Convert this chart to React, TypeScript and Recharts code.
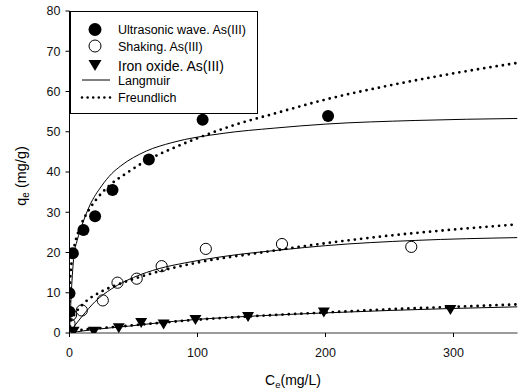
import React from "react";
import { ComposedChart, Line, Scatter, XAxis, YAxis, Legend, Label } from "recharts";

// measured points
const ultraC = [0, 0, 2.6, 10.9, 20, 33.6, 62, 104, 202];
const ultraQ = [5.3, 9.9, 19.8, 25.6, 29, 35.5, 43.1, 53, 53.9];

const shakeC = [0, 1.2, 9.6, 26, 37.5, 52.5, 72, 106.5, 166, 267];
const shakeQ = [2.3, 4.5, 5.6, 8.1, 12.5, 13.5, 16.6, 20.9, 22.1, 21.4];

const ironC = [3.2, 19, 38.5, 56, 73.5, 98.4, 139.5, 198.7, 297.6];
const ironQ = [0.3, 0.3, 1.2, 2.5, 2.1, 3.2, 4.0, 5.1, 5.7];

// fitted curves
const ultraLangC = [0, 1.5, 3.4, 6, 10, 16, 25, 33, 40, 60, 80, 120, 160, 200, 270, 350];
const ultraLangQ = [0, 10.5, 19, 23, 27, 31.8, 36.5, 39.6, 41.5, 45.2, 47.3, 49.6, 50.9, 51.9, 52.8, 53.3];
const ultraFreC = [0, 0.1, 0.5, 1, 2, 4, 7, 10, 15, 20, 30, 45, 60, 80, 100, 130, 160, 200, 250, 300, 350];
const ultraFreQ = [0, 8.7, 13, 15.5, 18.4, 21.9, 25.2, 27.6, 30.5, 32.8, 36.3, 39.8, 42.8, 45.8, 48.4, 51.8, 54.5, 58, 61.5, 64.5, 67.1];

const shakeLangC = [0, 5, 10, 20, 33, 50, 70, 90, 120, 167, 200, 270, 350];
const shakeLangQ = [0, 2.2, 4.2, 7.8, 11, 13.8, 16, 17.4, 19, 20.7, 21.7, 23, 23.7];
const shakeFreC = [0, 1, 4.4, 12, 25, 40, 62, 100, 150, 200, 250, 300, 350];
const shakeFreQ = [0, 2.8, 4.8, 7.6, 10.3, 12.3, 14.6, 17.5, 20, 22.3, 24.2, 25.7, 27];

const ironLangC = [0, 10, 20, 46, 63, 100, 150, 200, 250, 300, 350];
const ironLangQ = [0, 0.5, 0.9, 1.7, 2.3, 3.4, 4.3, 5.0, 5.6, 6.1, 6.5];
const ironFreC = [0, 2, 10, 20, 46, 63, 100, 150, 200, 250, 300, 350];
const ironFreQ = [0, 0.4, 0.8, 1.1, 1.8, 2.3, 3.3, 4.3, 5.1, 5.9, 6.5, 7.1];

const xTicks = [0, 100, 200, 300];
const yTicks = [0, 10, 20, 30, 40, 50, 60, 70, 80];

const pts = (c: number[], q: number[]) => c.map((v, i) => ({ c: v, q: q[i] }));

const FONT = "Arial, 'Liberation Sans', sans-serif";
const DOTS = { strokeWidth: 2.8, strokeDasharray: "0 6.3", strokeLinecap: "round" as const };

const FilledCircle = (p: any) => <circle cx={p.cx} cy={p.cy} r={6} fill="#000" />;
const OpenCircle = (p: any) => <circle cx={p.cx} cy={p.cy} r={5.6} fill="none" stroke="#000" strokeWidth={1} />;
const Triangle = (p: any) => (
  <polygon points={`${p.cx - 6},${p.cy - 5} ${p.cx + 6},${p.cy - 5} ${p.cx},${p.cy + 5}`} fill="#000" />
);

const LegendBox = () => (
  <svg width={188} height={103} style={{ display: "block" }}>
    <rect x={0.5} y={0.5} width={187} height={102} fill="#fff" stroke="#000" strokeWidth={1} />
    <g fontFamily={FONT} fontSize={12.5} fill="#000">
      <circle cx={25} cy={18.5} r={6.5} fill="#000" />
      <text x={48} y={23}>Ultrasonic wave. As(III)</text>
      <circle cx={25} cy={35} r={6} fill="none" stroke="#000" />
      <text x={48} y={39.5}>Shaking. As(III)</text>
      <polygon points="18.5,49 31.5,49 25,60" fill="#000" />
      <text x={48} y={59.5} fontSize={14}>Iron oxide. As(III)</text>
      <line x1={12} x2={40} y1={69} y2={69} stroke="#000" />
      <text x={48} y={73.5}>Langmuir</text>
      <line x1={12} x2={40} y1={86.5} y2={86.5} stroke="#000" {...DOTS} strokeWidth={2.6} strokeDasharray="0 5.6" />
      <text x={48} y={91}>Freundlich</text>
    </g>
  </svg>
);

export default function App() {
  return (
    <div style={{ position: "absolute", left: 0, top: 0, background: "#fff" }}>
      <ComposedChart width={523} height={391} margin={{ top: 11, right: 5.5, bottom: 0, left: 0 }}>
        <XAxis
          dataKey="c"
          type="number"
          domain={[0, 350]}
          ticks={xTicks}
          allowDataOverflow
          height={58}
          tickSize={4}
          tickMargin={11}
          tick={{ fontSize: 12.5, fill: "#111", fontFamily: FONT }}
          axisLine={{ stroke: "#7a7a7a", strokeWidth: 1.6 }}
          tickLine={{ stroke: "#000" }}
        >
          <Label
            content={() => (
              <text x={293} y={385} textAnchor="middle" fontFamily={FONT} fontSize={14} fill="#000">
                C<tspan fontSize={9.5} dy={3}>e</tspan>
                <tspan dy={-3}>(mg/L)</tspan>
              </text>
            )}
          />
        </XAxis>
        <XAxis
          xAxisId="top"
          orientation="top"
          type="number"
          domain={[0, 350]}
          height={0}
          tick={false}
          tickLine={false}
          axisLine={{ stroke: "#6a6a6a", strokeWidth: 1.4 }}
        />
        <YAxis
          type="number"
          domain={[0, 80]}
          ticks={yTicks}
          allowDataOverflow
          width={69.5}
          tickSize={4}
          tickMargin={5}
          tick={{ fontSize: 12.5, fill: "#111", fontFamily: FONT }}
          axisLine={{ stroke: "#000" }}
          tickLine={{ stroke: "#000" }}
        >
          <Label
            content={() => (
              <text
                x={26}
                y={176}
                transform="rotate(-90 26 176)"
                textAnchor="middle"
                fontFamily={FONT}
                fontSize={14.5}
                fill="#000"
              >
                q<tspan fontSize={10} dy={3}>e</tspan>
                <tspan dy={-3}> (mg/g)</tspan>
              </text>
            )}
          />
        </YAxis>
        <YAxis
          yAxisId="right"
          orientation="right"
          type="number"
          domain={[0, 80]}
          width={0}
          tick={false}
          tickLine={false}
          axisLine={{ stroke: "#6a6a6a", strokeWidth: 1.8 }}
        />

        <Line data={pts(ultraLangC, ultraLangQ)} dataKey="q" type="monotone" stroke="#000" strokeWidth={1} dot={false} isAnimationActive={false} />
        <Line data={pts(shakeLangC, shakeLangQ)} dataKey="q" type="monotone" stroke="#000" strokeWidth={1} dot={false} isAnimationActive={false} />
        <Line data={pts(ironLangC, ironLangQ)} dataKey="q" type="monotone" stroke="#000" strokeWidth={1} dot={false} isAnimationActive={false} />
        <Line data={pts(ultraFreC, ultraFreQ)} dataKey="q" type="monotone" stroke="#000" {...DOTS} dot={false} isAnimationActive={false} />
        <Line data={pts(shakeFreC, shakeFreQ)} dataKey="q" type="monotone" stroke="#000" {...DOTS} dot={false} isAnimationActive={false} />
        <Line data={pts(ironFreC, ironFreQ)} dataKey="q" type="monotone" stroke="#000" {...DOTS} dot={false} isAnimationActive={false} />

        <Scatter data={pts(ultraC, ultraQ)} dataKey="q" shape={FilledCircle} isAnimationActive={false} />
        <Scatter data={pts(shakeC, shakeQ)} dataKey="q" shape={OpenCircle} isAnimationActive={false} />
        <Scatter data={pts(ironC, ironQ)} dataKey="q" shape={Triangle} isAnimationActive={false} />

        <Legend
          layout="vertical"
          align="center"
          verticalAlign="middle"
          content={() => <LegendBox />}
          wrapperStyle={{ position: "absolute", left: 69.5, top: 10.5, width: 188, height: 103 }}
        />
      </ComposedChart>
    </div>
  );
}
